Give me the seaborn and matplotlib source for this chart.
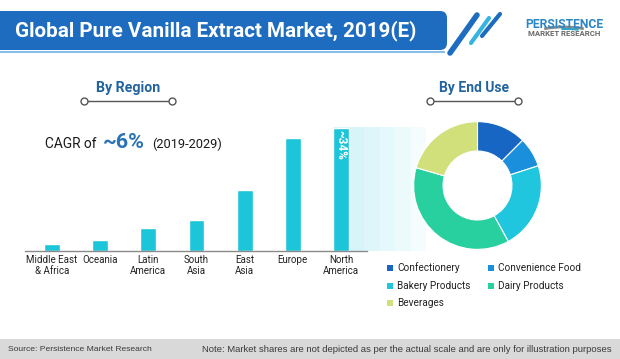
import numpy as np
import pandas as pd
import matplotlib
matplotlib.use("Agg")
import matplotlib.pyplot as plt
import seaborn as sns
from matplotlib.patches import FancyBboxPatch, Rectangle, Arc

# ---------------- data ----------------
title = "Global Pure Vanilla Extract Market, 2019(E)"
regions = ["Middle East\n& Africa", "Oceania", "Latin\nAmerica", "South\nAsia",
           "East\nAsia", "Europe", "North\nAmerica"]
region_share = [1.9, 3.0, 6.4, 8.6, 16.9, 31.2, 34.0]
top_label = "~34%"
end_uses = ["Confectionery", "Convenience Food", "Bakery Products", "Dairy Products", "Beverages"]
end_use_share = [12.5, 7.5, 22.0, 37.5, 20.5]
end_use_colors = ["#1766c4", "#1a8fdc", "#20c6de", "#27d09e", "#d2e07c"]
bar_color = "#1cc5d8"
source_text = "Source: Persistence Market Research"
note_text = "Note: Market shares are not depicted as per the actual scale and are only for illustration purposes"

# ---------------- setup ----------------
sns.set_style("white")
plt.rcParams['font.family'] = ['Roboto', 'DejaVu Sans']

W, H = 620, 359
fig = plt.figure(figsize=(W / 100, H / 100), dpi=100)
fig.patch.set_facecolor("white")


def rect(x0, y0, x1, y1):
    return [x0 / W, 1 - y1 / H, (x1 - x0) / W, (y1 - y0) / H]


renderer = fig.canvas.get_renderer()


def fit(t, target, dim='w'):
    bb = t.get_window_extent(renderer=renderer)
    cur = bb.width if dim == 'w' else bb.height
    t.set_fontsize(t.get_fontsize() * target / cur)


# decoration axes in pixel coordinates
deco = fig.add_axes([0, 0, 1, 1])
deco.set_xlim(0, W)
deco.set_ylim(H, 0)
deco.axis("off")
deco.set_zorder(0)

# title banner
deco.add_patch(FancyBboxPatch((-20, 11), 467, 39, boxstyle="round,pad=0,rounding_size=7",
                              fc="#1d6cc0", ec="none"))
deco.plot([0, 445], [52, 52], color="#6fb2e6", lw=1.2, solid_capstyle="butt")
deco.plot([450, 477], [53, 15], color="#1d6cc0", lw=4, solid_capstyle="round")
deco.plot([471, 489], [43, 18], color="#35b4e0", lw=3, solid_capstyle="round")
deco.plot([482, 500], [36, 14], color="#1d6cc0", lw=3, solid_capstyle="round")
t = deco.text(15, 31, title, color="white", fontweight="bold", fontsize=12,
              ha="left", va="center")
fit(t, 400)

# logo
t = deco.text(564, 24, "PERSISTENCE", color="#2a86c4", fontweight="bold", fontsize=9,
              ha="center", va="center")
fit(t, 78)
t = deco.text(564, 34, "MARKET RESEARCH", color="#666666", fontweight="bold", fontsize=4,
              ha="center", va="center")
fit(t, 72)
deco.add_patch(Arc((564, 36), 66, 18, theta1=200, theta2=340, color="#8a8a8a", lw=2))
deco.add_patch(Arc((566, 37), 60, 16, theta1=240, theta2=330, color="#2aa5c8", lw=1.5))

# headings
for label, cx, x0, x1 in [("By Region", 128, 84, 172), ("By End Use", 474, 430, 518)]:
    t = deco.text(cx, 88, label, color="#22649f", fontweight="bold", fontsize=10,
                  ha="center", va="center")
    fit(t, 64 if label == "By Region" else 70)
    deco.plot([x0, x1], [101, 101], color="#555555", lw=1)
    deco.plot([x0, x1], [101, 101], "o", mfc="white", mec="#555555", ms=5, mew=1)

# CAGR text
t1 = deco.text(45, 148, "CAGR of", color="#1a1a1a", fontsize=10, ha="left", va="baseline")
fit(t1, 52)
t2 = deco.text(103, 148, "~6%", color="#2a72b5", fontweight="bold", fontsize=14,
               ha="left", va="baseline")
fit(t2, 42)
t3 = deco.text(152, 148, "(2019-2029)", color="#1a1a1a", fontsize=8, ha="left", va="baseline")
fit(t3, 70)

# legend
leg_pos = [(387, 268), (488, 268), (387, 286), (488, 286), (387, 303)]
for name, col, (lx, ly) in zip(end_uses, end_use_colors, leg_pos):
    deco.add_patch(Rectangle((lx, ly - 3), 6, 6, fc=col, ec="none"))
    deco.text(lx + 10, ly, name, color="#222222", fontsize=7.2, ha="left", va="center")

# footer
deco.add_patch(Rectangle((0, 339), W, 20, fc="#d9d9d9", ec="none"))
ts = deco.text(8, 349.5, source_text, color="#3a3a3a", fontsize=6,
               family=["Liberation Sans", "DejaVu Sans"], ha="left", va="center")
fit(ts, 144)
tn = deco.text(612, 349.5, note_text, color="#3a3a3a", fontsize=6,
               family=["Liberation Sans", "DejaVu Sans"], ha="right", va="center")
fit(tn, 415)

# gradient band behind North America
band = fig.add_axes(rect(333, 127, 442, 251))
band.set_zorder(1)
steps = 7
base = np.array([0.83, 0.955, 0.975])
fr = np.linspace(0, 1, steps)
grad = np.array([[base + (1 - base) * f ** 1.3 for f in fr]])
band.imshow(grad, aspect="auto", extent=[0, 1, 0, 1], interpolation="nearest")
band.axis("off")

# bar chart
ax = fig.add_axes(rect(25, 110, 367, 251))
ax.set_zorder(2)
ax.patch.set_alpha(0)
df = pd.DataFrame({"region": regions, "share": region_share})
sns.barplot(data=df, x="region", y="share", color=bar_color, saturation=1,
            width=0.33, ax=ax)
px_per_unit = 123 / region_share[-1]
ax.set_ylim(0, 141 / px_per_unit)
ax.set_xlim(-0.56, 6.54)
ax.set_xlabel("")
ax.set_ylabel("")
ax.set_yticks([])
for s in ["top", "right", "left"]:
    ax.spines[s].set_visible(False)
ax.spines["bottom"].set_color("#8a8a8a")
ax.spines["bottom"].set_linewidth(1)
ax.tick_params(axis="x", length=0, pad=3, labelsize=7, labelcolor="#222222")
for lab in ax.get_xticklabels():
    lab.set_linespacing(1.1)
tl = ax.text(6, region_share[-1] - 2.5 / px_per_unit, top_label, color="white",
             fontweight="bold", fontsize=8.5, rotation=270, ha="center", va="top")

# donut
pax = fig.add_axes(rect(413, 121, 542, 250))
pax.set_zorder(3)
pax.pie(end_use_share, colors=end_use_colors, startangle=90, counterclock=False,
        radius=1, wedgeprops=dict(width=0.46, edgecolor="white", linewidth=0.8))
pax.set_xlim(-1.01, 1.01)
pax.set_ylim(-1.01, 1.01)
pax.set_aspect("equal")

fig.savefig("out.png", dpi=100)
